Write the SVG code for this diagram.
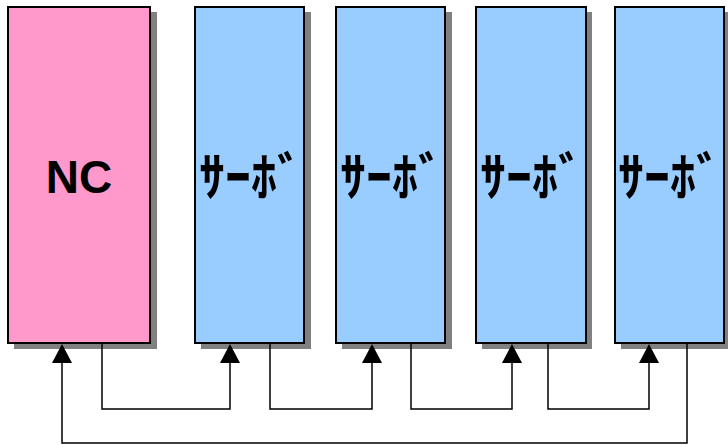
<svg xmlns="http://www.w3.org/2000/svg" width="728" height="445" viewBox="0 0 728 445">
<defs>
<style>
.sh{fill:#808080}
.box{stroke:#000;stroke-width:2}
.nc{fill:#FF99CC}
.sv{fill:#99CCFF}
.lbl{font-family:"Noto Sans CJK JP","Liberation Sans",sans-serif;font-weight:bold;font-size:52px;fill:#000;text-anchor:middle}
.nct{font-family:"Liberation Sans",Arial,sans-serif;font-weight:bold;font-size:46px;fill:#000;text-anchor:middle}
.ln{fill:none;stroke:#000;stroke-width:1.5}
</style>
</defs>
<rect width="728" height="445" fill="#fff"/>
<g id="nc">
<rect class="sh" x="14" y="12" width="143" height="337"/>
<rect class="box nc" x="8" y="7" width="142" height="336"/>
<text class="nct" x="79" y="193">NC</text>
</g>
<g id="servo1">
<rect class="sh" x="201" y="12" width="110" height="337"/>
<rect class="box sv" x="195" y="7" width="109" height="336"/>
<text class="lbl" x="251" y="196">ｻｰﾎﾞ</text>
</g>
<g id="servo2">
<rect class="sh" x="342" y="12" width="110" height="337"/>
<rect class="box sv" x="336" y="7" width="109" height="336"/>
<text class="lbl" x="392" y="196">ｻｰﾎﾞ</text>
</g>
<g id="servo3">
<rect class="sh" x="482" y="12" width="110" height="337"/>
<rect class="box sv" x="476" y="7" width="110" height="336"/>
<text class="lbl" x="532" y="196">ｻｰﾎﾞ</text>
</g>
<g id="servo4">
<rect class="sh" x="621" y="12" width="110" height="337"/>
<rect class="box sv" x="615" y="7" width="109" height="336"/>
<text class="lbl" x="670" y="196">ｻｰﾎﾞ</text>
</g>
<g id="connectors">
<path class="ln" d="M102,344 V409 H230 V362"/>
<path class="ln" d="M270,344 V409 H372 V362"/>
<path class="ln" d="M411,344 V409 H512 V362"/>
<path class="ln" d="M548,344 V409 H649 V362"/>
<path class="ln" d="M687,344 V443 H62 V362"/>
<polygon points="230,344 220,363 240,363"/>
<polygon points="372,344 362,363 382,363"/>
<polygon points="512,344 502,363 522,363"/>
<polygon points="649,344 639,363 659,363"/>
<polygon points="62,344 52,363 72,363"/>
</g>
</svg>
